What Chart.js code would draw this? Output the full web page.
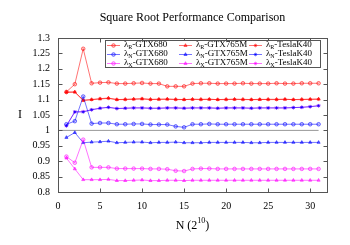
<!DOCTYPE html>
<html><head><meta charset="utf-8">
<script src="https://cdn.jsdelivr.net/npm/chart.js@4"></script>
<style>html,body{margin:0;padding:0;background:#fff}#wrap{width:350px;height:245px}</style>
</head><body><div id="wrap"><canvas id="c" width="350" height="245"></canvas></div>
<script>
const N = [1,2,3,4,5,6,7,8,9,10,11,12,13,14,15,16,17,18,19,20,21,22,23,24,25,26,27,28,29,30,31];
const R_GTX680  = [1.125,1.150,1.265,1.153,1.155,1.156,1.152,1.152,1.153,1.154,1.152,1.152,1.143,1.143,1.143,1.152,1.153,1.153,1.152,1.152,1.152,1.153,1.152,1.152,1.152,1.153,1.152,1.152,1.153,1.153,1.153];
const N_GTX680  = [1.020,1.030,1.110,1.022,1.024,1.024,1.020,1.020,1.021,1.021,1.019,1.019,1.019,1.013,1.010,1.020,1.020,1.021,1.020,1.020,1.020,1.020,1.020,1.020,1.020,1.020,1.020,1.020,1.020,1.020,1.020];
const X_GTX680  = [0.915,0.895,0.970,0.880,0.880,0.880,0.876,0.876,0.876,0.876,0.875,0.875,0.874,0.869,0.868,0.875,0.876,0.876,0.875,0.875,0.875,0.875,0.875,0.875,0.875,0.875,0.875,0.875,0.875,0.875,0.875];
const R_GTX765M = [1.125,1.125,1.097,1.100,1.103,1.105,1.100,1.101,1.102,1.103,1.101,1.101,1.102,1.101,1.100,1.101,1.101,1.101,1.100,1.101,1.101,1.101,1.100,1.100,1.101,1.101,1.101,1.100,1.101,1.101,1.102];
const N_GTX765M = [0.977,0.993,0.960,0.962,0.963,0.965,0.960,0.961,0.962,0.962,0.960,0.961,0.961,0.962,0.960,0.960,0.960,0.961,0.961,0.961,0.961,0.961,0.960,0.960,0.961,0.961,0.961,0.961,0.961,0.961,0.961];
const X_GTX765M = [0.910,0.875,0.840,0.840,0.840,0.841,0.837,0.837,0.838,0.839,0.837,0.837,0.838,0.838,0.837,0.838,0.838,0.838,0.838,0.838,0.838,0.838,0.838,0.838,0.838,0.838,0.838,0.838,0.838,0.838,0.838];
const R_K40     = [1.123,1.124,1.098,1.100,1.102,1.104,1.100,1.100,1.101,1.102,1.100,1.101,1.101,1.100,1.100,1.101,1.100,1.101,1.100,1.100,1.101,1.100,1.100,1.101,1.100,1.100,1.101,1.100,1.100,1.101,1.101];
const N_K40     = [1.015,1.060,1.060,1.067,1.072,1.075,1.071,1.072,1.073,1.073,1.072,1.072,1.073,1.073,1.072,1.073,1.073,1.073,1.072,1.073,1.073,1.073,1.072,1.073,1.073,1.073,1.073,1.074,1.075,1.077,1.080];
const X_K40     = [1.015,1.060,1.061,1.067,1.072,1.075,1.071,1.072,1.073,1.073,1.072,1.072,1.073,1.073,1.072,1.073,1.073,1.073,1.072,1.073,1.073,1.073,1.072,1.073,1.073,1.073,1.073,1.074,1.075,1.077,1.080];
const REF_X = [0, 31];
const REF_Y = [1, 1];
const X_TICKS = [0,5,10,15,20,25,30];
const Y_TICKS = [0.8,0.85,0.9,0.95,1,1.05,1.1,1.15,1.2,1.25,1.3];
const SERIES = [
  {sub:'R', gpu:'GTX680',  data:R_GTX680,  m:'R'},
  {sub:'N', gpu:'GTX680',  data:N_GTX680,  m:'N'},
  {sub:'X', gpu:'GTX680',  data:X_GTX680,  m:'X'},
  {sub:'R', gpu:'GTX765M', data:R_GTX765M, m:'R'},
  {sub:'N', gpu:'GTX765M', data:N_GTX765M, m:'N'},
  {sub:'X', gpu:'GTX765M', data:X_GTX765M, m:'X'},
  {sub:'R', gpu:'TeslaK40',data:R_K40,     m:'R'},
  {sub:'N', gpu:'TeslaK40',data:N_K40,     m:'N'},
  {sub:'X', gpu:'TeslaK40',data:X_K40,     m:'X'}
];
const COLORS = {R:'rgba(255,0,0,0.55)', N:'rgba(0,0,255,0.55)', X:'rgba(255,0,255,0.55)'};
const FILLS  = {R:'rgba(255,0,0,0.2)', N:'rgba(0,0,255,0.2)', X:'rgba(255,0,255,0.2)'};
const STYLES = {GTX680:'circle', GTX765M:'triangle', TeslaK40:'star'};
const FONT = "'Liberation Serif', 'DejaVu Serif', serif";

const datasets = SERIES.map(s => ({
  label: 'λ' + s.sub + '-' + s.gpu,
  sub: s.sub, gpu: s.gpu,
  data: s.data.map((v,i)=>({x:N[i], y:v})),
  borderColor: COLORS[s.m],
  backgroundColor: s.gpu==='GTX680' ? FILLS[s.m] : COLORS[s.m],
  borderWidth: 1, pointStyle: STYLES[s.gpu], pointRadius: 1.8,
  pointBorderWidth: 1, tension: 0
}));
datasets.push({label:'ref', data: REF_X.map((x,i)=>({x, y:REF_Y[i]})), borderColor:'#999', borderWidth:1, pointRadius:0});

const deco = {
  id:'deco',
  afterDraw(chart){
    const ctx = chart.ctx, a = chart.chartArea, xs = chart.scales.x, ys = chart.scales.y;
    ctx.save();
    ctx.strokeStyle = '#555'; ctx.lineWidth = 1;
    const L = Math.round(a.left)+0.5, R = Math.round(a.right)+0.5, T = Math.round(a.top)+0.5, B = Math.round(a.bottom)+0.5;
    ctx.strokeRect(L, T, R-L, B-T);
    ctx.beginPath();
    X_TICKS.forEach(v => { const p = Math.round(xs.getPixelForValue(v))+0.5; ctx.moveTo(p,B); ctx.lineTo(p,B-4); ctx.moveTo(p,T); ctx.lineTo(p,T+4); });
    Y_TICKS.forEach(v => { const p = Math.round(ys.getPixelForValue(v))+0.5; ctx.moveTo(L,p); ctx.lineTo(L+4,p); ctx.moveTo(R,p); ctx.lineTo(R-4,p); });
    ctx.stroke();
    ctx.fillStyle = '#000';
    ctx.textBaseline = 'middle'; ctx.textAlign = 'center';
    ctx.font = '12px ' + FONT;
    ctx.fillText('Square Root Performance Comparison', (a.left+a.right)/2, 18);
    ctx.fillText('I', 20, (a.top+a.bottom)/2);
    const main = 'N (2', sup = '10', end = ')';
    ctx.font = '12px ' + FONT; const w1 = ctx.measureText(main).width, w3 = ctx.measureText(end).width;
    ctx.font = '8px ' + FONT; const w2 = ctx.measureText(sup).width;
    let x0 = (a.left+a.right)/2 - (w1+w2+w3)/2, yT = 226;
    ctx.textAlign = 'left';
    ctx.font = '12px ' + FONT; ctx.fillText(main, x0, yT);
    ctx.font = '8px ' + FONT; ctx.fillText(sup, x0+w1, yT-5);
    ctx.font = '12px ' + FONT; ctx.fillText(end, x0+w1+w2, yT);
    // legend
    const bx = 105, by = 40, bw = 215, bh = 27;
    ctx.fillStyle = '#fff'; ctx.fillRect(bx, by, bw, bh);
    ctx.strokeStyle = '#555'; ctx.strokeRect(bx+0.5, by+0.5, bw, bh);
    const colText = [124, 196, 266];
    chart.data.datasets.forEach((ds, i) => {
      if (!ds.sub) return;
      const col = Math.floor(i/3), row = i%3;
      const tx = colText[col], ty = 44.5 + row*9.3;
      ctx.strokeStyle = ds.borderColor; ctx.lineWidth = 1;
      ctx.beginPath(); ctx.moveTo(tx-17, Math.round(ty)+0.5); ctx.lineTo(tx-4, Math.round(ty)+0.5); ctx.stroke();
      ctx.fillStyle = ds.backgroundColor;
      Chart.helpers.drawPoint(ctx, {pointStyle: ds.pointStyle, radius: 1.8, borderWidth: 1}, tx-10.5, Math.round(ty)+0.5);
      ctx.fillStyle = '#000'; ctx.textAlign = 'left'; ctx.textBaseline = 'middle';
      ctx.font = '9px ' + FONT;
      ctx.fillText('λ', tx, ty);
      const wl = ctx.measureText('λ').width;
      ctx.font = '6px ' + FONT;
      ctx.fillText(ds.sub, tx+wl, ty+2.5);
      const ws = ctx.measureText(ds.sub).width;
      ctx.font = '9px ' + FONT;
      ctx.fillText('-' + ds.gpu, tx+wl+ws, ty);
    });
    ctx.restore();
  }
};

new Chart(document.getElementById('c'), {
  type:'line',
  data:{datasets},
  options:{
    responsive:false, animation:false, devicePixelRatio:1,
    layout:{padding:{top:38, right:23, left:0, bottom:0}},
    plugins:{legend:{display:false}, title:{display:false}, tooltip:{enabled:false}},
    scales:{
      x:{type:'linear', min:0, max:32,
         afterBuildTicks(s){ s.ticks = X_TICKS.map(v=>({value:v})); },
         afterFit(s){ s.height = 53; },
         grid:{display:false, drawTicks:false}, border:{display:false},
         ticks:{padding:8, color:'#000', font:{family:FONT, size:10}, maxRotation:0, autoSkip:false}},
      y:{type:'linear', min:0.8, max:1.3,
         afterBuildTicks(s){ s.ticks = Y_TICKS.map(v=>({value:v})); },
         afterFit(s){ s.width = 58; },
         grid:{display:false, drawTicks:false}, border:{display:false},
         ticks:{padding:8, color:'#000', font:{family:FONT, size:10}, autoSkip:false,
                callback:v=>String(Number(v.toFixed(2)))}}
    }
  },
  plugins:[deco]
});
</script></body></html>
